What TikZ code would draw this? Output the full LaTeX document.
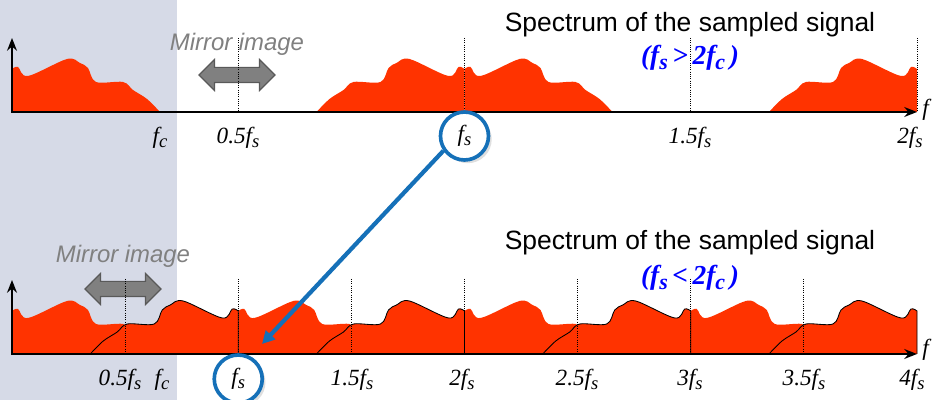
\documentclass[tikz,border=0pt]{standalone}
\usepackage{fontspec}
\setmainfont{Liberation Serif}
\newfontfamily\sansfont{Liberation Sans}
\usepackage{graphicx}
\usepackage{tikz}
\usetikzlibrary{shapes, arrows.meta, positioning, calc, shadows}

\definecolor{specred}{HTML}{FF3300}
\definecolor{shadebg}{HTML}{D6DAE7}
\definecolor{lensblue}{HTML}{1570B8}

% one side band, from f=0 up to fc (units are pixels); #2 closes it or not
\newcommand{\band}[2]{\path[#1] (0,0) -- plot[smooth, tension=0.55] coordinates {(0,43) (6,45) (16,36) (55,53) (68,49) (76,44) (84,30) (111,30) (121,22) (135,13) (148,0)} #2;}
\newcommand{\sub}[1]{\raisebox{-0.35ex}{\scalebox{0.8}{#1}}}
\newcommand{\fq}[2]{\textit{#1f\sub{#2}}}

\begin{document}
\begin{tikzpicture}[
    x=0.025cm, y=0.025cm,
    axis_line/.style={line width=2pt, {Stealth[length=9pt, width=7pt]}-{Stealth[length=9pt, width=7pt]}},
    guide_line/.style={densely dotted, line width=0.6pt},
    band_edge/.style={draw=black, line width=0.6pt},
    tick_label/.style={font=\fontsize{16.5}{19}\selectfont, inner sep=1pt},
    title_text/.style={font=\sansfont\fontsize{18.8}{22}\selectfont},
    cond_text/.style={font=\bfseries\itshape\fontsize{19.5}{22}\selectfont, text=blue},
    mirror_text/.style={font=\sansfont\itshape\fontsize{17}{20}\selectfont, text=black!50},
    mirror_arrow/.style={double arrow, draw=black!65, fill=black!50, thick, minimum height=1.9cm, inner xsep=0pt, inner ysep=0.175cm, double arrow head extend=0.2cm},
    lens/.style={circle, draw=lensblue, line width=2.6pt, fill=white, minimum size=1.2cm, inner sep=0pt, drop shadow={opacity=0.25}}
    ]
    % Background
    \fill[shadebg] (0,0) rectangle (177,400);
    \useasboundingbox (0,0) rectangle (934,400);

    % Axes
    \coordinate (o1) at (12,288);
    \coordinate (e1) at (917,288);
    \coordinate (v1) at (12,362);
    \coordinate (o2) at (12,46);
    \coordinate (e2) at (917,46);
    \coordinate (v2) at (12,120);

    % Spectra (fs > 2fc)
    \foreach \xs/\dir in {12/1, 464.5/-1, 464.5/1, 917/-1} {
        \begin{scope}[shift={(\xs,288)}, xscale=\dir]
            \band{fill=specred}{-- cycle}
        \end{scope}
    }

    % Spectra (fs < 2fc)
    \foreach \xs/\dir in {12/1, 238.25/-1, 238.25/1, 464.5/-1, 464.5/1, 690.75/-1, 690.75/1, 917/-1} {
        \begin{scope}[shift={(\xs,46)}, xscale=\dir]
            \band{fill=specred}{-- cycle}
        \end{scope}
    }
    \foreach \xs in {238.25, 464.5, 690.75, 917} {
        \begin{scope}[shift={(\xs,46)}, xscale=-1]
            \band{band_edge}{}
        \end{scope}
    }

    % Mirror image
    \node[mirror_arrow] (ma1) at (237,325) {};
    \node[mirror_text] (mt1) at (237,356) {Mirror image};
    \node[mirror_arrow] (ma2) at (123,111) {};
    \node[mirror_text] (mt2) at (123,144) {Mirror image};

    % Guides
    \foreach \x in {238.25, 464.5, 690.75, 917}
        \draw[guide_line] (\x,362) -- (\x,288);
    \foreach \x in {125.1, 238.25, 351.4, 464.5, 577.6, 690.75, 803.9}
        \draw[guide_line] (\x,121) -- (\x,46);

    \draw[axis_line] (v1) -- (o1) -- (e1);
    \draw[axis_line] (v2) -- (o2) -- (e2);

    % Labels
    \node[title_text] (ttl1) at (690,375) {Spectrum of the sampled signal};
    \node[cond_text] (cnd1) at (690,342) {(f\sub{s}\,>\,2f\sub{c}\,)};
    \node[title_text] (ttl2) at (690,157) {Spectrum of the sampled signal};
    \node[cond_text] (cnd2) at (690,122) {(f\sub{s}\,<\,2f\sub{c}\,)};

    \node[tick_label] (fc1) at (160,262) {\fq{}{c}};
    \node[tick_label] (h1) at (238,262) {\fq{0.5}{s}};
    \node[tick_label] (t15a) at (690,262) {\fq{1.5}{s}};
    \node[tick_label] (t2a) at (910,262) {\fq{2}{s}};
    \node[tick_label] (ft) at (927,290) {\textit{f}};
    \node[lens, tick_label] (lens1) at (464.5,264) {\fq{}{s}};

    \node[tick_label] (h2) at (120,20) {\fq{0.5}{s}};
    \node[tick_label] (fc2) at (162,20) {\fq{}{c}};
    \node[tick_label] (t15b) at (352,20) {\fq{1.5}{s}};
    \node[tick_label] (t2b) at (462,20) {\fq{2}{s}};
    \node[tick_label] (t25b) at (577,20) {\fq{2.5}{s}};
    \node[tick_label] (t3b) at (690,20) {\fq{3}{s}};
    \node[tick_label] (t35b) at (804,20) {\fq{3.5}{s}};
    \node[tick_label] (t4b) at (912,20) {\fq{4}{s}};
    \node[tick_label] (fb) at (927,50) {\textit{f}};
    \node[lens, tick_label] (lens2) at (238.25,21) {\fq{}{s}};

    % Arrow
    \coordinate (hit) at (262,56);
    \draw[lensblue, line width=3pt, -{Triangle[length=9pt, width=9pt]}] (lens1.215) -- (hit);
\end{tikzpicture}
\end{document}
